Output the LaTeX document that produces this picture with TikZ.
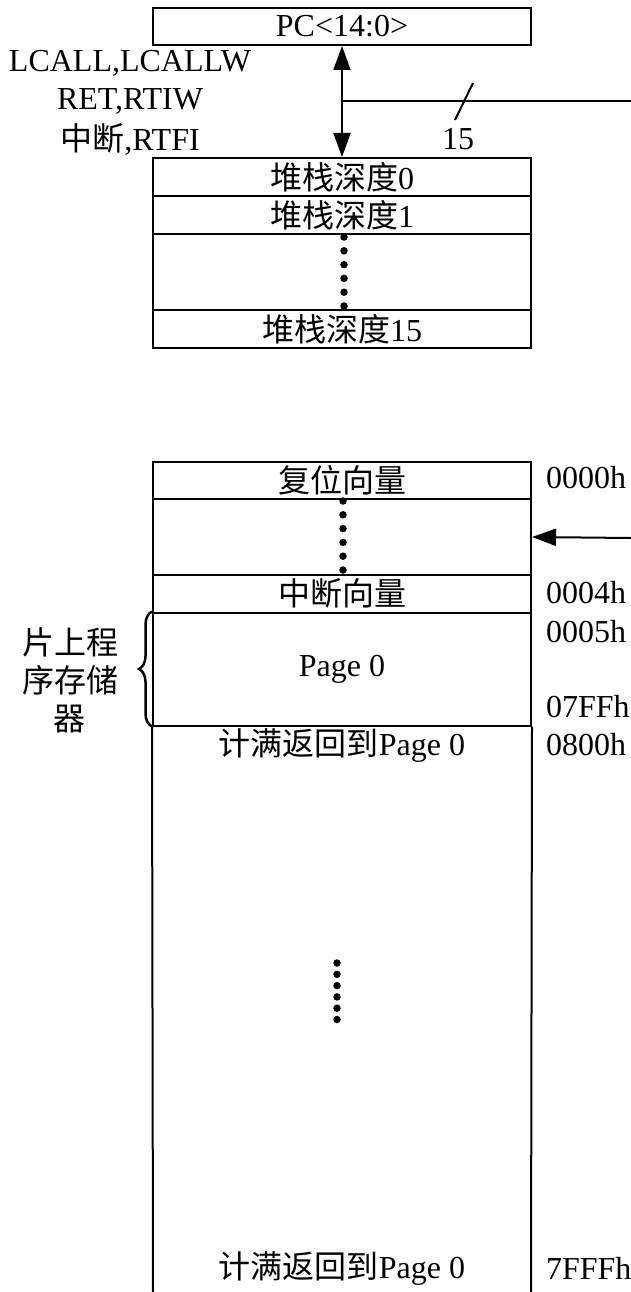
\documentclass[tikz,border=0pt]{standalone}
\usepackage{fontspec}
\setmainfont{Liberation Serif}
\newfontfamily\cjk{Noto Sans CJK SC}
\usetikzlibrary{arrows.meta,decorations.pathreplacing}
\begin{document}
\begin{tikzpicture}[x=1pt,y=-1pt, line width=2pt,
  txt/.style={font=\fontsize{32}{38}\selectfont, inner sep=0pt},
  cell/.style={draw, minimum width=378pt, inner sep=0pt, font=\fontsize{32}{38}\selectfont},
  dotm/.style={circle, fill, inner sep=0pt, minimum size=7.5pt},
  tip/.style={Triangle[length=24pt,width=17pt]}]
\useasboundingbox (0,0) rectangle (631,1292);

% PC register
\node[cell, minimum height=37pt] (pc) at (342,26.5) {PC<14:0>};

% left labels
\node[txt] (l1) at (130,63) {LCALL,LCALLW};
\node[txt] (l2) at (130,101) {RET,RTIW};
\node[txt] (l3) at (130,139) {{\cjk 中断},RTFI};

% stack
\node[cell, minimum height=38pt] (s0) at (342,177) {{\cjk 堆栈深度}0};
\node[cell, minimum height=38pt] (s1) at (342,215) {{\cjk 堆栈深度}1};
\node[cell, minimum height=76pt] (sd) at (342,272) {};
\node[cell, minimum height=38pt] (s15) at (342,329) {{\cjk 堆栈深度}15};
\foreach \i in {0,...,5} \node[dotm] (sdot\i) at (344,237+13.8*\i) {};

% PC <-> stack
\draw[{Triangle[length=24pt,width=17pt]}-{Triangle[length=24pt,width=17pt]}] (pc.south) -- (s0.north);
\coordinate (j) at (342,101);
\coordinate (busR) at (631,101);
\draw (j) -- (busR);
\draw (473,83) -- (455,120);
\node[txt] (n15) at (458,139) {15};

% program memory
\node[cell, minimum height=37pt] (rv) at (342,480.5) {{\cjk 复位向量}};
\node[cell, minimum height=76pt] (pd) at (342,537) {};
\node[cell, minimum height=37.5pt] (iv) at (342,593.75) {{\cjk 中断向量}};
\node[cell, minimum height=113pt] (p0) at (342,669) {Page 0};
\foreach \i in {0,...,5} \node[dotm] (pdot\i) at (343,501+13.8*\i) {};
\coordinate (bl) at (153,1292);
\coordinate (br) at (531,1292);
\draw (p0.south west) -- (bl);
\draw (p0.south east) -- (br);
\node[txt] (c1) at (342,746) {{\cjk 计满返回到}Page 0};
\node[txt] (c2) at (342,1268) {{\cjk 计满返回到}Page 0};
\foreach \i in {0,...,5} \node[dotm] (mdot\i) at (337,963+11.3*\i) {};

% incoming arrow
\coordinate (in) at (631,538);
\draw[-{Triangle[length=24pt,width=17pt]}] (in) -- (pd.east);

% addresses
\node[txt, anchor=west] (a0) at (545,478) {0000h};
\node[txt, anchor=west] (a4) at (545,593) {0004h};
\node[txt, anchor=west] (a5) at (545,632) {0005h};
\node[txt, anchor=west] (a7) at (545,707) {07FFh};
\node[txt, anchor=west] (a8) at (545,745) {0800h};
\node[txt, anchor=west] (af) at (545,1268) {7FFFh};

% brace and label
\draw[line width=2.5pt, decorate, decoration={brace, amplitude=13pt}] (p0.south west) -- (p0.north west);
\node[txt, align=center, font=\fontsize{32}{38}\selectfont\cjk] (mem) at (70,680) {片上程\\序存储\\器};
\end{tikzpicture}
\end{document}
